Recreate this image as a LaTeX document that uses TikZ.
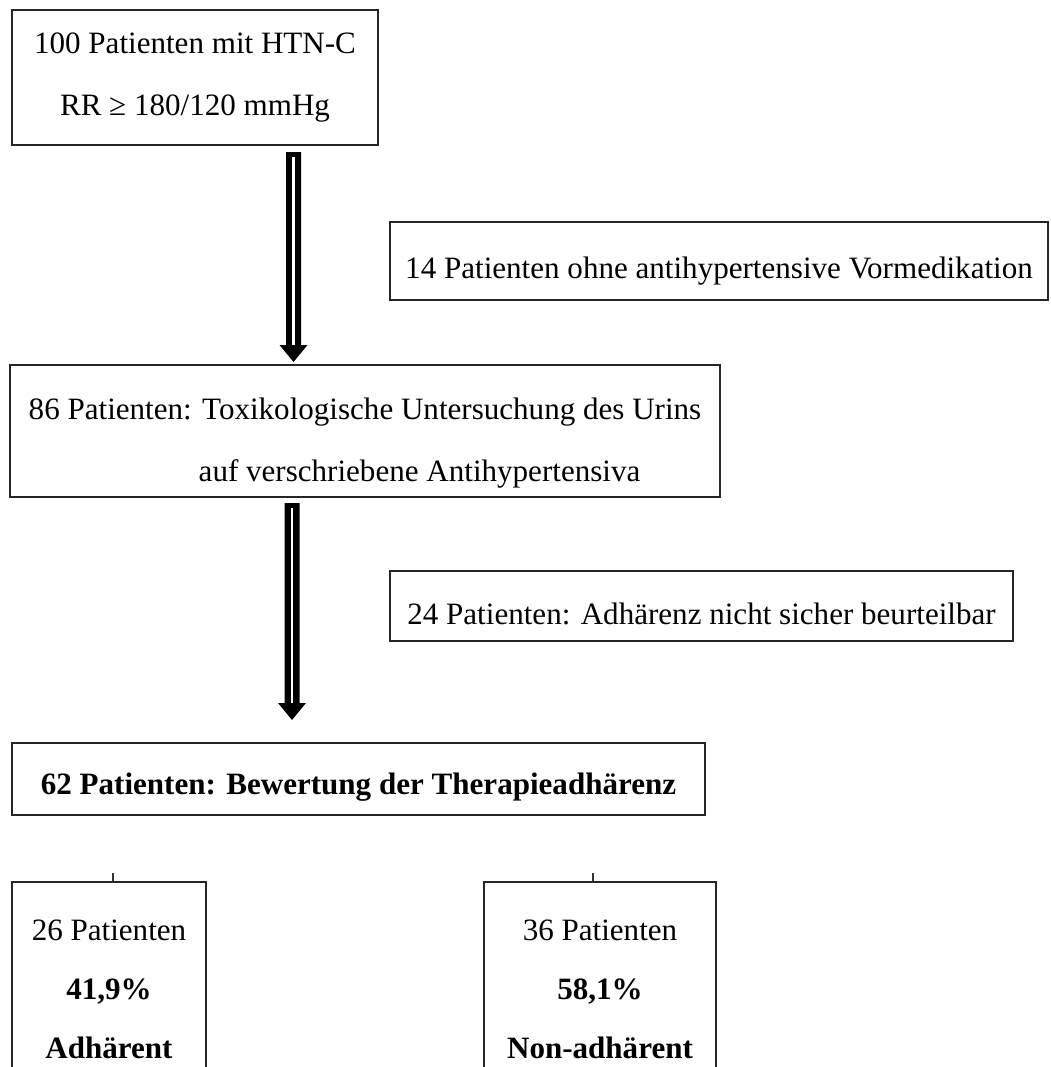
\documentclass[tikz,border=0pt]{standalone}
\usepackage{fontspec}
\setmainfont{Liberation Serif}
\usetikzlibrary{calc}
\begin{document}
\begin{tikzpicture}[x=0.75pt,y=-0.75pt]
\tikzset{
  box/.style={draw=black!85, line width=1.1pt, rectangle, inner sep=0pt, align=center,
    font=\fontsize{23.3}{46.5}\selectfont},
  arrowfill/.style={fill=black},
  slot/.style={draw=white, line width=2.2pt},
  tick/.style={draw=black!80, line width=0.8pt}
}
\useasboundingbox (0,0) rectangle (1050,1067);
\clip (0,0) rectangle (1050,1067);

\node[box, minimum width=274.5pt, minimum height=101.25pt] (b1) at (195,77.5)
  {100 Patienten mit HTN-C\\RR ≥ 180/120 mmHg};
\node[box, minimum width=493.5pt, minimum height=58.5pt] (b14) at (719,261)
  {\rule{0pt}{31pt}14 Patienten ohne antihypertensive Vormedikation};
\node[box, align=left, minimum width=532.5pt, minimum height=99pt] (b86) at (365,431)
  {\rule{0pt}{34pt}86 Patienten: Toxikologische Untersuchung des Urins\\\hspace*{127.5pt}auf verschriebene Antihypertensiva};
\node[box, minimum width=467.25pt, minimum height=52.5pt] (b24) at (701.5,606)
  {\rule{0pt}{28pt}24 Patienten: Adhärenz nicht sicher beurteilbar};
\node[box, minimum width=519.75pt, minimum height=54pt] (b62) at (358.5,779)
  {\rule{0pt}{28pt}\bfseries 62 Patienten: Bewertung der Therapieadhärenz};
\node[box, font=\fontsize{23.3}{44.25}\selectfont, minimum width=145.5pt, minimum height=160.5pt] (b26) at (109,989)
  {26 Patienten\\\textbf{41,9\%}\\\textbf{Adhärent}};
\node[box, font=\fontsize{23.3}{44.25}\selectfont, minimum width=174pt, minimum height=160.5pt] (b36) at (600,989)
  {36 Patienten\\\textbf{58,1\%}\\\textbf{Non-adhärent}};

% block arrows
\coordinate (a1s) at (293.5,152);
\coordinate (a1e) at (293.5,362);
\path[arrowfill] (a1s) ++(-7.5,0) -- ++(15,0) -- ++(0,193) -- ++(6.5,0) -- (a1e)
  -- ++(-14,-17) -- ++(6.5,0) -- cycle;
\draw[slot] ($(a1s)+(0,5)$) -- ($(a1e)+(0,-17)$);

\coordinate (a2s) at (292,503);
\coordinate (a2e) at (292,720);
\path[arrowfill] (a2s) ++(-7.5,0) -- ++(15,0) -- ++(0,200) -- ++(6.5,0) -- (a2e)
  -- ++(-14,-17) -- ++(6.5,0) -- cycle;
\draw[slot] ($(a2s)+(0,5)$) -- ($(a2e)+(0,-17)$);

% ticks
\coordinate (t1) at (113,873);
\coordinate (t2) at (593,873);
\draw[tick] (t1) -- (t1 |- b26.north);
\draw[tick] (t2) -- (t2 |- b36.north);
\end{tikzpicture}
\end{document}
